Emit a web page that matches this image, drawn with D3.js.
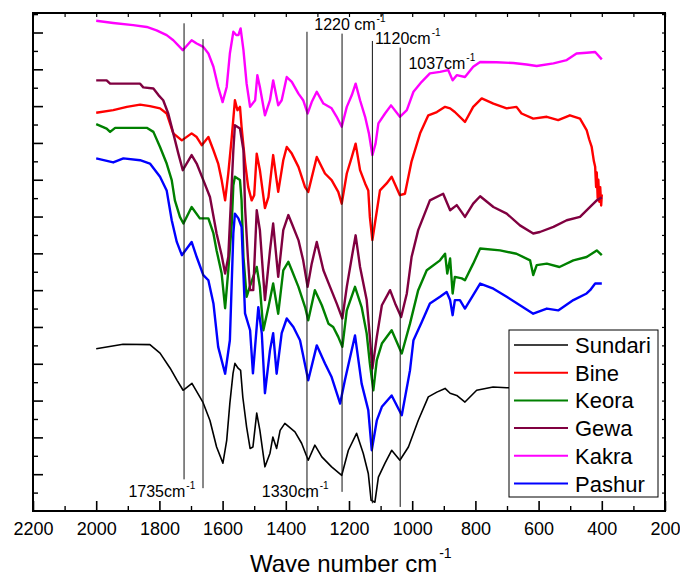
<!DOCTYPE html>
<html><head><meta charset="utf-8">
<script src="https://cdn.jsdelivr.net/npm/d3@7"></script>
<style>
body{margin:0;background:#fff}
svg{display:block}
text{font-family:"Liberation Sans",Arial,Helvetica,sans-serif;fill:#000}
</style>
</head><body>
<svg id="chart" width="680" height="578"></svg>
<script>
// ---- data: [wavenumber cm^-1, transmittance (arb., offset)] ----
const sundari = [[2000,44.1],[1915,45.3],[1830,45.2],[1798,42.9],[1766,38.8],[1744,35.5],[1725,32.8],[1697,34.7],[1662,29.5],[1640,24.6],[1619,17.4],[1599,13.0],[1587,19.2],[1577,29.3],[1567,37.4],[1561,40.1],[1551,38.8],[1543,38.2],[1536,30.9],[1524,22.8],[1513,17.0],[1504,17.4],[1492,26.6],[1482,21.9],[1466,12.0],[1450,15.7],[1441,20.1],[1429,17.0],[1418,21.9],[1403,23.8],[1371,21.5],[1350,18.4],[1329,13.8],[1308,17.9],[1286,14.7],[1255,12.0],[1223,9.7],[1202,16.5],[1176,21.1],[1155,15.7],[1139,10.2],[1130,2.9],[1118,2.4],[1107,9.2],[1086,13.0],[1065,16.5],[1039,13.8],[1012,17.4],[981,24.6],[949,31.0],[922,32.3],[896,33.3],[880,32.0],[859,31.4],[833,29.6],[796,32.8],[744,33.7],[701,33.5],[650,33.5],[600,33.0],[500,34.0],[400,35.0]];

const bine = [[2000,108.2],[1946,108.9],[1903,109.8],[1861,110.4],[1830,110.0],[1798,109.4],[1777,108.0],[1756,102.6],[1729,100.7],[1698,102.6],[1682,101.6],[1666,99.4],[1645,101.6],[1629,98.0],[1614,94.4],[1603,89.9],[1592,84.4],[1582,91.7],[1571,101.6],[1561,111.6],[1553,108.9],[1545,109.8],[1540,104.4],[1529,94.8],[1519,88.0],[1508,84.4],[1500,85.8],[1492,97.1],[1482,92.6],[1466,82.3],[1455,85.3],[1440,96.7],[1424,86.7],[1408,95.3],[1397,98.9],[1381,97.1],[1360,93.5],[1339,88.0],[1329,86.7],[1302,96.2],[1276,91.7],[1255,89.9],[1234,86.7],[1223,83.5],[1207,91.7],[1191,96.2],[1179,99.8],[1165,92.6],[1149,89.0],[1139,87.1],[1134,79.9],[1126,73.6],[1118,78.1],[1102,87.1],[1081,89.0],[1065,90.8],[1039,85.8],[1023,86.2],[1002,95.0],[975,102.6],[949,107.5],[922,108.4],[896,109.8],[880,109.4],[865,108.4],[833,105.7],[807,109.8],[780,112.1],[743,110.7],[701,109.4],[670,109.8],[654,108.0],[617,106.6],[574,107.1],[538,106.2],[501,107.5],[469,106.6],[448,103.5],[440,101.0],[432,98.9],[425,95.0],[421,93.5],[418,88.0],[416,92.0],[413,85.0],[411,90.0],[408,84.0],[405,88.0],[402,83.0],[400,86.0]];

const keora = [[2000,105.1],[1967,103.9],[1956,103.0],[1940,104.1],[1840,104.1],[1819,103.0],[1798,98.9],[1777,94.4],[1761,89.9],[1751,84.4],[1735,79.9],[1724,78.1],[1698,82.6],[1672,79.5],[1645,79.5],[1629,75.4],[1619,70.8],[1603,64.5],[1592,55.1],[1582,65.4],[1571,78.1],[1566,88.5],[1561,90.8],[1545,89.9],[1540,84.4],[1534,69.0],[1524,58.2],[1513,61.2],[1492,66.3],[1482,60.9],[1471,49.1],[1455,55.4],[1440,61.8],[1424,53.6],[1408,65.4],[1392,67.7],[1381,65.4],[1360,60.9],[1339,55.4],[1329,51.8],[1308,60.0],[1286,55.9],[1265,50.9],[1250,50.0],[1234,47.3],[1221,44.6],[1207,54.5],[1181,60.9],[1160,55.4],[1144,48.2],[1134,40.1],[1123,32.8],[1112,41.0],[1096,45.5],[1065,49.1],[1033,42.8],[1007,50.9],[981,60.0],[954,65.4],[912,68.1],[896,69.9],[889,64.5],[880,68.6],[872,59.1],[865,63.6],[843,63.2],[833,62.7],[807,67.2],[785,71.3],[722,70.8],[670,69.9],[627,68.1],[617,64.1],[606,66.8],[574,67.2],[534,66.3],[490,68.1],[448,69.0],[416,70.8],[400,69.5]];

const gewa = [[2000,117.0],[1967,117.0],[1956,116.1],[1861,116.1],[1851,115.1],[1819,114.8],[1803,113.0],[1788,111.6],[1772,108.0],[1756,102.6],[1740,97.1],[1726,92.6],[1698,96.7],[1682,94.4],[1661,89.9],[1640,85.3],[1619,75.4],[1603,69.5],[1592,64.5],[1582,69.0],[1577,78.1],[1566,98.0],[1561,104.8],[1545,103.9],[1534,98.0],[1529,82.6],[1520,69.0],[1513,60.0],[1503,60.0],[1492,81.7],[1482,76.3],[1466,57.3],[1450,70.8],[1440,78.1],[1424,63.6],[1408,76.3],[1392,80.4],[1381,78.1],[1360,73.6],[1345,68.1],[1331,60.9],[1318,67.2],[1302,73.1],[1281,65.4],[1260,60.9],[1239,56.4],[1221,52.3],[1207,60.9],[1191,69.0],[1179,74.9],[1165,66.3],[1144,57.3],[1134,47.3],[1126,38.7],[1112,47.3],[1096,55.9],[1070,60.0],[1054,56.4],[1035,52.7],[1017,59.1],[1002,69.0],[981,76.3],[944,84.4],[902,86.2],[880,81.7],[859,83.1],[833,79.9],[807,83.5],[785,85.5],[743,82.6],[701,80.8],[659,77.6],[617,75.4],[596,75.8],[553,77.2],[511,79.0],[469,79.9],[437,82.6],[416,84.4],[400,85.2]];

const kakra = [[2000,133.2],[1946,132.6],[1883,132.0],[1840,131.5],[1809,130.6],[1777,129.3],[1756,127.9],[1726,125.2],[1698,127.9],[1682,127.0],[1661,126.1],[1645,124.3],[1629,120.7],[1614,115.2],[1600,111.1],[1587,115.2],[1577,124.3],[1566,130.2],[1557,129.3],[1550,129.3],[1543,131.1],[1534,125.2],[1524,116.1],[1513,109.8],[1497,111.6],[1490,118.4],[1482,115.2],[1466,107.5],[1450,111.6],[1440,117.0],[1424,110.2],[1413,111.6],[1397,117.9],[1381,116.6],[1360,113.4],[1345,111.6],[1331,108.0],[1318,111.1],[1302,113.9],[1281,110.7],[1255,109.4],[1239,107.1],[1223,104.4],[1207,109.8],[1191,113.0],[1179,116.1],[1165,111.6],[1149,107.1],[1137,102.6],[1126,96.7],[1116,99.8],[1107,105.3],[1086,108.0],[1067,110.2],[1039,107.1],[1017,108.9],[996,113.9],[970,116.6],[944,118.9],[912,119.3],[886,119.8],[872,117.0],[859,118.4],[833,117.9],[807,120.7],[785,122.0],[733,121.9],[680,121.7],[638,121.3],[606,120.9],[553,121.6],[511,122.5],[480,124.3],[448,124.5],[421,124.7],[400,122.7]];

const pashur = [[2000,95.8],[1946,94.7],[1914,95.8],[1861,95.3],[1830,94.4],[1798,90.8],[1777,87.1],[1761,79.0],[1745,73.1],[1729,69.5],[1698,73.1],[1682,69.0],[1661,64.1],[1645,62.7],[1629,56.4],[1614,44.6],[1592,37.3],[1577,46.4],[1566,75.5],[1561,80.8],[1550,79.5],[1540,77.2],[1529,53.7],[1513,49.1],[1504,37.4],[1487,55.4],[1476,48.3],[1466,32.0],[1450,43.7],[1440,48.3],[1429,37.3],[1413,48.3],[1397,52.3],[1376,50.0],[1355,46.4],[1329,35.5],[1302,45.0],[1276,40.1],[1255,36.4],[1228,29.2],[1213,35.5],[1181,47.7],[1160,34.6],[1139,27.4],[1128,16.5],[1112,24.6],[1096,28.3],[1065,31.4],[1033,26.0],[1007,38.2],[996,46.4],[970,51.3],[944,56.4],[912,58.2],[891,59.5],[880,57.3],[872,53.2],[865,57.3],[849,57.3],[833,55.0],[785,61.8],[743,60.4],[701,58.2],[659,55.9],[617,53.6],[574,55.0],[538,54.5],[490,57.3],[448,59.1],[437,60.0],[421,61.8],[400,61.8]];

const seriesNames  = ["Sundari","Bine","Keora","Gewa","Kakra","Pashur"];
const seriesData   = [sundari, bine, keora, gewa, kakra, pashur];
const seriesColors = ["#000000","#ff0000","#008000","#800040","#ff00ff","#0000ff"];

// band marker lines: [wavenumber, bottom value, top value]
const markerLines = [[1722,8.6,132.5],[1662,6.2,128.2],[1333,3.5,130.2],[1222,5.2,129.7],[1126,2.1,127.7],[1038,1.1,125.9]];
// band labels: [text, wavenumber at text start, value at baseline]
const markerLabels = [["1735cm",1898,3.9],["1330cm",1476,3.9],["1220 cm",1310,130.6],["1120cm",1118,127.0],["1037cm",1012,120.2]];

const xMajor = [2200,2000,1800,1600,1400,1200,1000,800,600,400,200];
const xMinor = [2100,1900,1700,1500,1300,1100,900,700,500,300];
const xTitle = "Wave number cm";

// ---- drawing ----
const svg = d3.select("#chart");
const L=33, R=665, T=13, B=511;
const x = d3.scaleLinear().domain([2200,200]).range([L,R]);
const y = d3.scaleLinear().domain([0,135.3]).range([B,T]);

const yMajor = d3.range(10,131,10);
const yMinor = d3.range(5,136,10);
const yAll = d3.range(5,136,5);

function styleAxis(g, sw){
  g.select(".domain").remove();
  g.selectAll(".tick line").attr("stroke","#000").attr("stroke-width",sw);
}
// bottom
svg.append("g").attr("transform",`translate(0,${B})`)
  .call(d3.axisBottom(x).tickValues(xMajor).tickSize(-10).tickPadding(11).tickFormat(d=>d))
  .call(g=>{styleAxis(g,1.6); g.selectAll("text").attr("font-size",18).attr("font-family","Liberation Sans, Arial, sans-serif");});
svg.append("g").attr("transform",`translate(0,${B})`)
  .call(d3.axisBottom(x).tickValues(xMinor).tickSize(-5).tickFormat(""))
  .call(g=>styleAxis(g,1.4));
// top
svg.append("g").attr("transform",`translate(0,${T})`)
  .call(d3.axisTop(x).tickValues(xMajor.concat(xMinor)).tickSize(-4).tickFormat(""))
  .call(g=>styleAxis(g,1.2));
// left
svg.append("g").attr("transform",`translate(${L},0)`)
  .call(d3.axisLeft(y).tickValues(yMajor).tickSize(-10).tickFormat(""))
  .call(g=>styleAxis(g,1.6));
svg.append("g").attr("transform",`translate(${L},0)`)
  .call(d3.axisLeft(y).tickValues(yMinor).tickSize(-5).tickFormat(""))
  .call(g=>styleAxis(g,1.4));
// right
svg.append("g").attr("transform",`translate(${R},0)`)
  .call(d3.axisRight(y).tickValues(yAll).tickSize(-3).tickFormat(""))
  .call(g=>styleAxis(g,1.2));

// series
const line = d3.line().x(d=>x(d[0])).y(d=>y(d[1]));
seriesData.forEach((s,i)=>{
  svg.append("path").datum(s).attr("d",line)
    .attr("fill","none").attr("stroke",seriesColors[i])
    .attr("stroke-width", i===0 ? 1.6 : 2.4).attr("stroke-linejoin","round");
});

// marker lines
svg.append("g").selectAll("line").data(markerLines).join("line")
  .attr("x1",d=>x(d[0])).attr("x2",d=>x(d[0]))
  .attr("y1",d=>y(d[1])).attr("y2",d=>y(d[2]))
  .attr("stroke","#111").attr("stroke-width",1);

// marker labels
const ml = svg.append("g").selectAll("text").data(markerLabels).join("text")
  .attr("x",d=>x(d[1])).attr("y",d=>y(d[2])).attr("font-size",16);
ml.append("tspan").text(d=>d[0]);
ml.append("tspan").attr("font-size",10).attr("dy",-8).attr("dx",1).text("-1");

// frame
svg.append("rect").attr("x",L).attr("y",T).attr("width",R-L).attr("height",B-T)
  .attr("fill","none").attr("stroke","#000").attr("stroke-width",2);

// x title
const xt = svg.append("text").attr("x",250).attr("y",572).attr("font-size",24);
xt.append("tspan").text(xTitle);
xt.append("tspan").attr("font-size",14).attr("dy",-14).attr("dx",2).text("-1");

// legend
const lg = svg.append("g");
lg.append("rect").attr("x",509).attr("y",330).attr("width",149).attr("height",167)
  .attr("fill","#fff").attr("stroke","#000").attr("stroke-width",1);
seriesNames.forEach((n,i)=>{
  const cy = 345 + i*27.7;
  lg.append("line").attr("x1",514).attr("x2",568).attr("y1",cy).attr("y2",cy)
    .attr("stroke",seriesColors[i]).attr("stroke-width", i===0?1.6:2);
  lg.append("text").attr("x",575).attr("y",cy+8).attr("font-size",22).text(n);
});
</script>
</body></html>
